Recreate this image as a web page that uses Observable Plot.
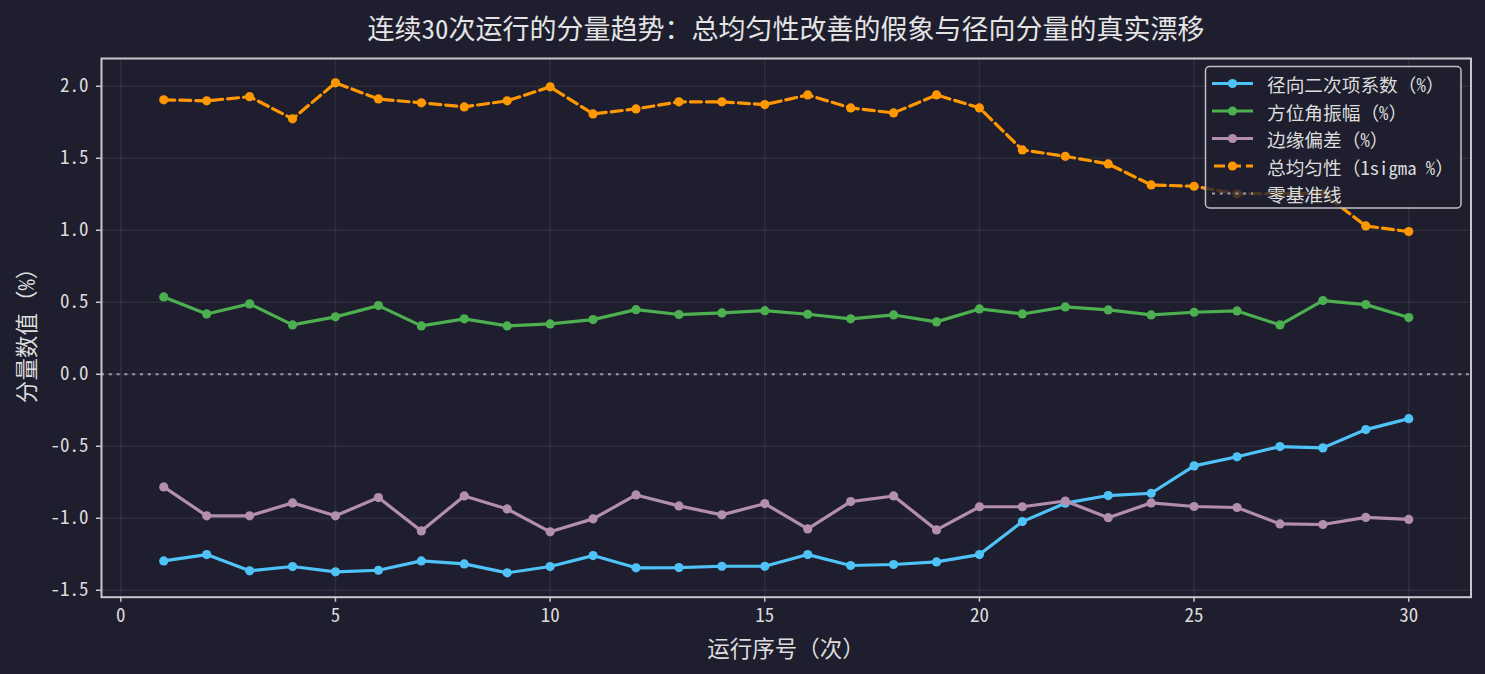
<!DOCTYPE html>
<html>
<head>
<meta charset="utf-8">
<script src="https://cdn.jsdelivr.net/npm/d3@7"></script>
<script src="https://cdn.jsdelivr.net/npm/@observablehq/plot@0.6"></script>
<style>
  html, body { margin: 0; padding: 0; background: #1e1e2e; }
  #chart svg { display: block; }
</style>
</head>
<body>
<div id="chart"></div>
<script>
const titleText = "连续30次运行的分量趋势：总均匀性改善的假象与径向分量的真实漂移";
const xLabel = "运行序号（次）";
const yLabel = "分量数值（%）";

const runs = [1,2,3,4,5,6,7,8,9,10,11,12,13,14,15,16,17,18,19,20,21,22,23,24,25,26,27,28,29,30];
const radial = [-1.296,-1.252,-1.365,-1.335,-1.372,-1.361,-1.296,-1.317,-1.379,-1.335,-1.259,-1.344,-1.342,-1.333,-1.333,-1.252,-1.328,-1.321,-1.303,-1.252,-1.023,-0.895,-0.842,-0.826,-0.636,-0.573,-0.502,-0.511,-0.384,-0.308];
const azimuthal = [0.537,0.419,0.489,0.343,0.399,0.477,0.336,0.385,0.336,0.350,0.380,0.449,0.415,0.426,0.442,0.417,0.385,0.412,0.364,0.454,0.419,0.468,0.447,0.412,0.431,0.440,0.343,0.512,0.484,0.394];
const edge = [-0.782,-0.983,-0.983,-0.893,-0.983,-0.856,-1.088,-0.845,-0.935,-1.094,-1.004,-0.838,-0.914,-0.976,-0.898,-1.074,-0.884,-0.845,-1.081,-0.920,-0.920,-0.880,-0.996,-0.893,-0.918,-0.925,-1.039,-1.043,-0.994,-1.008];
const total = [1.906,1.899,1.928,1.774,2.024,1.912,1.885,1.857,1.899,1.996,1.808,1.843,1.892,1.892,1.873,1.940,1.850,1.815,1.940,1.850,1.558,1.514,1.461,1.315,1.306,1.253,1.255,1.257,1.030,0.991];

const seriesNames = ["径向二次项系数（%）", "方位角振幅（%）", "边缘偏差（%）", "总均匀性（1sigma %）"];
const zeroName = "零基准线";
const xTicks = [0,5,10,15,20,25,30];
const yTicks = [-1.5,-1.0,-0.5,0.0,0.5,1.0,1.5,2.0];

const colors = ["#4fc3f7", "#4caf50", "#b48ead", "#ff9800"];
const dashes = [null, null, null, "11,5"];
const valuesList = [radial, azimuthal, edge, total];

const FONT = "'Noto Sans Mono CJK SC', 'DejaVu Sans Mono', 'Noto Sans CJK SC', monospace";
const BG = "#1e1e2e";
const TEXT = "#dcdcdc";
const SPINE = "#c8c8cc";

const series = valuesList.map((vals, i) =>
  runs.map((r, j) => ({run: r, value: vals[j], name: seriesNames[i]}))
);

const W = 1485, H = 674;
const marks = [
  Plot.gridX(xTicks, {stroke: "#ffffff", strokeOpacity: 0.07, strokeWidth: 1.5}),
  Plot.gridY(yTicks, {stroke: "#ffffff", strokeOpacity: 0.07, strokeWidth: 1.5}),
  Plot.ruleY([0], {stroke: "#9a9aa8", strokeWidth: 2, strokeDasharray: "3,4.8"}),
];
series.forEach((data, i) => {
  marks.push(Plot.line(data, {x: "run", y: "value", stroke: colors[i], strokeWidth: 3.2, strokeDasharray: dashes[i] || undefined}));
  marks.push(Plot.dot(data, {x: "run", y: "value", fill: colors[i], r: 4.6}));
});
marks.push(
  Plot.axisX(xTicks, {tickSize: 5, tickPadding: 6, stroke: SPINE, strokeWidth: 1.5, fill: TEXT, fontSize: 19, tickFormat: d => String(d), label: null}),
  Plot.axisY(yTicks, {tickSize: 5, tickPadding: 8, stroke: SPINE, strokeWidth: 1.5, fill: TEXT, fontSize: 19, tickFormat: d => d.toFixed(1), label: null}),
  Plot.frame({stroke: SPINE, strokeWidth: 2})
);

const svgNode = Plot.plot({
  width: W,
  height: H,
  marginLeft: 101,
  marginRight: 14.5,
  marginTop: 58,
  marginBottom: 77.3,
  x: {domain: [-0.45, 31.45]},
  y: {domain: [-1.548, 2.193]},
  style: {background: BG, color: TEXT, fontFamily: FONT, fontSize: "19px"},
  marks
});

const svg = d3.select(svgNode);

// Title
svg.append("text")
  .attr("x", 786).attr("y", 27)
  .attr("text-anchor", "middle").attr("dominant-baseline", "central")
  .attr("fill", "#e4e4e4").attr("font-size", 27).attr("font-family", FONT)
  .text(titleText);

// Axis labels
svg.append("text")
  .attr("x", 786).attr("y", 647)
  .attr("text-anchor", "middle").attr("dominant-baseline", "central")
  .attr("fill", TEXT).attr("font-size", 22.5).attr("font-family", FONT)
  .text(xLabel);
svg.append("text")
  .attr("transform", "translate(25,330) rotate(-90)")
  .attr("text-anchor", "middle").attr("dominant-baseline", "central")
  .attr("fill", TEXT).attr("font-size", 22.5).attr("font-family", FONT)
  .text(yLabel);

// Legend
const lg = svg.append("g").attr("text-anchor", "start");
lg.append("rect")
  .attr("x", 1205.5).attr("y", 66.5).attr("width", 255.5).attr("height", 141.5)
  .attr("rx", 4).attr("fill", BG).attr("fill-opacity", 0.8)
  .attr("stroke", "#c0c0c4").attr("stroke-width", 1.5);
const rowY = (i) => 83.5 + i * 27.5;
seriesNames.forEach((name, i) => {
  const y = rowY(i);
  lg.append("line").attr("x1", 1212).attr("x2", 1253).attr("y1", y).attr("y2", y)
    .attr("stroke", colors[i]).attr("stroke-width", 3.2)
    .attr("stroke-dasharray", dashes[i] ? "11,5" : null)
    .attr("stroke-dashoffset", dashes[i] ? -2 : null);
  lg.append("circle").attr("cx", 1232.5).attr("cy", y).attr("r", 4.6).attr("fill", colors[i]);
  lg.append("text").attr("x", 1267).attr("y", y)
    .attr("text-anchor", "start")
    .attr("dominant-baseline", "central").attr("fill", TEXT)
    .attr("font-size", 18.7).attr("font-family", FONT).text(name);
});
{
  const y = rowY(4);
  lg.append("line").attr("x1", 1212).attr("x2", 1253).attr("y1", y).attr("y2", y)
    .attr("stroke", "#9a9aa8").attr("stroke-width", 2).attr("stroke-dasharray", "3,4.8");
  lg.append("text").attr("x", 1267).attr("y", y)
    .attr("text-anchor", "start")
    .attr("dominant-baseline", "central").attr("fill", TEXT)
    .attr("font-size", 18.7).attr("font-family", FONT).text(zeroName);
}

document.getElementById("chart").appendChild(svgNode);
</script>
</body>
</html>
